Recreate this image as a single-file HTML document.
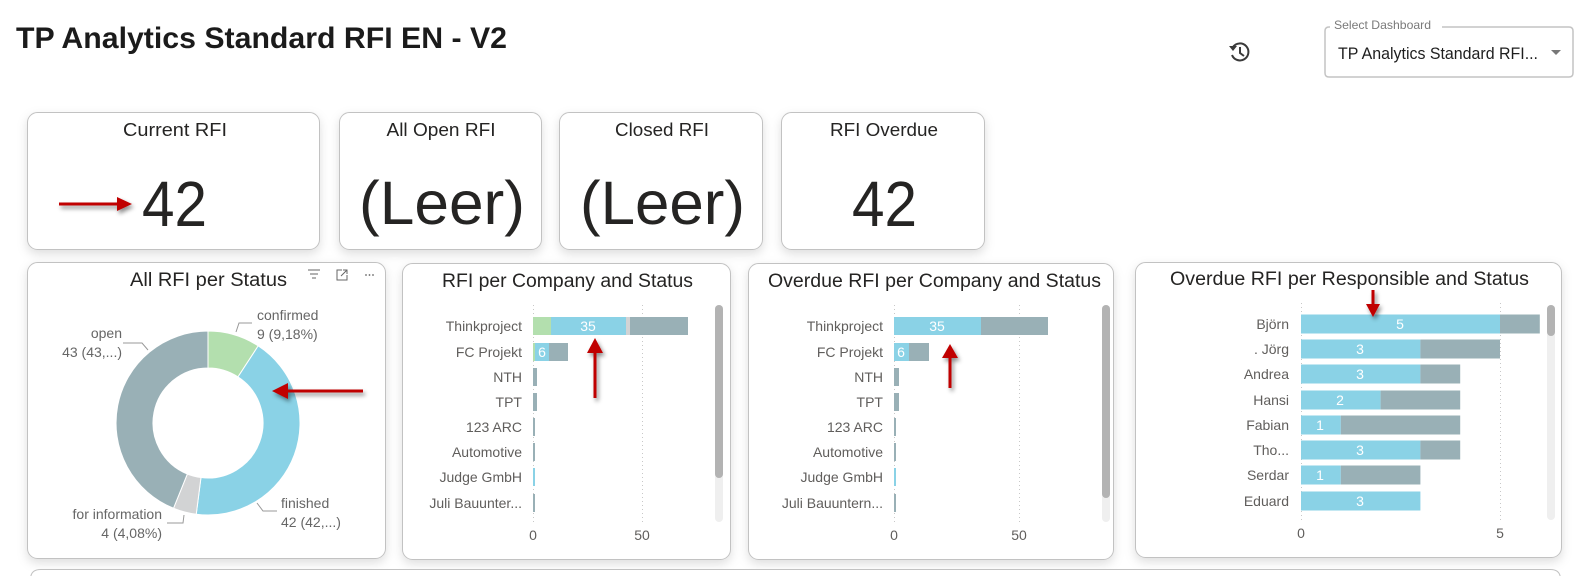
<!DOCTYPE html>
<html><head><meta charset="utf-8"><style>
html,body{margin:0;padding:0;background:#fff;width:1585px;height:576px;overflow:hidden;}
svg{display:block;}
text{font-family:"Liberation Sans","DejaVu Sans",sans-serif;}
</style></head><body>
<svg width="1585" height="576" viewBox="0 0 1585 576" xmlns="http://www.w3.org/2000/svg" overflow="hidden">
<defs>
<filter id="sh" x="-10%" y="-10%" width="120%" height="130%"><feDropShadow dx="0" dy="4" stdDeviation="5" flood-color="#000" flood-opacity="0.13"/></filter>
<filter id="ash" x="-30%" y="-30%" width="160%" height="160%"><feDropShadow dx="2" dy="3" stdDeviation="2" flood-color="#000" flood-opacity="0.45"/></filter>
</defs>
<rect width="1585" height="576" fill="#fff"/>

<!-- Title -->
<text x="16" y="48" font-size="30" font-weight="bold" fill="#1b1b1b" textLength="491" lengthAdjust="spacingAndGlyphs">TP Analytics Standard RFI EN - V2</text>

<!-- history icon -->
<g stroke="#3a3a3a" stroke-width="2" fill="none">
<path d="M1233 47 A8.5 8.5 0 1 1 1232 55"/>
<path d="M1240 47 L1240 53 L1244 56"/>
</g>
<path d="M1229 46 L1237 46 L1233 51 Z" fill="#3a3a3a"/>

<!-- dropdown -->
<path d="M1330 27 L1329 27 Q1325 27 1325 31 L1325 73 Q1325 77 1329 77 L1569 77 Q1573 77 1573 73 L1573 31 Q1573 27 1569 27 L1442 27" fill="none" stroke="#c4c4c4" stroke-width="1.5"/>
<text x="1334" y="29" font-size="12" fill="#7a7a7a" textLength="97" lengthAdjust="spacingAndGlyphs">Select Dashboard</text>
<text x="1338" y="59" font-size="17" fill="#1e1e1e" textLength="200" lengthAdjust="spacingAndGlyphs">TP Analytics Standard RFI...</text>
<path d="M1551 50 L1561 50 L1556 55 Z" fill="#777"/>

<!-- cards -->
<g filter="url(#sh)" fill="#fff" stroke="#c2c2c2" stroke-width="1">
<rect x="27.5" y="112.5" width="292" height="137" rx="10"/>
<rect x="339.5" y="112.5" width="202" height="137" rx="10"/>
<rect x="559.5" y="112.5" width="203" height="137" rx="10"/>
<rect x="781.5" y="112.5" width="203" height="137" rx="10"/>
<rect x="27.5" y="262.5" width="358" height="296" rx="10"/>
<rect x="402.5" y="263.5" width="328" height="296" rx="10"/>
<rect x="748.5" y="263.5" width="365" height="296" rx="10"/>
<rect x="1135.5" y="262.5" width="426" height="295" rx="10"/>
</g>
<path d="M30.5 576 L30.5 579.5 Q30.5 569.5 40.5 569.5 L1550.5 569.5 Q1560.5 569.5 1560.5 579.5 L1560.5 576" fill="#fff" stroke="#c2c2c2" stroke-width="1"/>

<g fill="#252423" text-anchor="middle">
<text x="175" y="136" font-size="18" textLength="104" lengthAdjust="spacingAndGlyphs">Current RFI</text>
<text x="441" y="136" font-size="18" textLength="109" lengthAdjust="spacingAndGlyphs">All Open RFI</text>
<text x="662" y="136" font-size="18" textLength="94" lengthAdjust="spacingAndGlyphs">Closed RFI</text>
<text x="884" y="136" font-size="18" textLength="108" lengthAdjust="spacingAndGlyphs">RFI Overdue</text>
<text x="174.5" y="226" font-size="64" textLength="65" lengthAdjust="spacingAndGlyphs">42</text>
<text x="442" y="224" font-size="61" textLength="166" lengthAdjust="spacingAndGlyphs">(Leer)</text>
<text x="662.5" y="224" font-size="61" textLength="165" lengthAdjust="spacingAndGlyphs">(Leer)</text>
<text x="884.5" y="226" font-size="64" textLength="65" lengthAdjust="spacingAndGlyphs">42</text>
</g>

<!-- Chart titles -->
<g fill="#252423" font-size="19">
<text x="130" y="286" textLength="157" lengthAdjust="spacingAndGlyphs">All RFI per Status</text>
<text x="442" y="287" textLength="251" lengthAdjust="spacingAndGlyphs">RFI per Company and Status</text>
<text x="768" y="287" textLength="333" lengthAdjust="spacingAndGlyphs">Overdue RFI per Company and Status</text>
<text x="1170" y="285" textLength="359" lengthAdjust="spacingAndGlyphs">Overdue RFI per Responsible and Status</text>
</g>

<!-- card 5 header icons -->
<g stroke="#666" stroke-width="1" fill="none">
<path d="M308 270 L320 270 M310 274 L318 274 M312 278 L316 278"/>
<path d="M342 270 L337 270 L337 280 L347 280 L347 275 M341 276 L347 270 M343 270 L347 270 L347 274"/>
</g>
<g fill="#666"><circle cx="366" cy="275" r="0.9"/><circle cx="369.5" cy="275" r="0.9"/><circle cx="373" cy="275" r="0.9"/></g>

<!-- Donut -->
<g stroke="#fff" stroke-width="1">
<path d="M208,331 A92,92 0 0 1 258.19,345.89 L238.00,376.90 A55,55 0 0 0 208,368 Z" fill="#B3DFAE"/>
<path d="M258.19,345.89 A92,92 0 0 1 196.23,514.25 L200.96,477.55 A55,55 0 0 0 238.00,376.90 Z" fill="#8AD2E6"/>
<path d="M196.23,514.25 A92,92 0 0 1 173.48,508.27 L187.36,473.98 A55,55 0 0 0 200.96,477.55 Z" fill="#D2D3D4"/>
<path d="M173.48,508.27 A92,92 0 0 1 208,331 L208,368 A55,55 0 0 0 187.36,473.98 Z" fill="#99B0B6"/>
</g>
<g stroke="#999" stroke-width="1" fill="none">
<path d="M236 332 L239 323 L252 323"/>
<path d="M148 350 L142 343 L123 343"/>
<path d="M184 515 L183 523 L167 523"/>
<path d="M257 503 L263 511 L277 511"/>
</g>
<g fill="#666" font-size="14">
<text x="257" y="320">confirmed</text>
<text x="257" y="339">9 (9,18%)</text>
<text x="122" y="338" text-anchor="end">open</text>
<text x="122" y="357" text-anchor="end">43 (43,...)</text>
<text x="162" y="519" text-anchor="end">for information</text>
<text x="162" y="538" text-anchor="end">4 (4,08%)</text>
<text x="281" y="508">finished</text>
<text x="281" y="527">42 (42,...)</text>
</g>

<!-- gridlines -->
<g stroke="#c8c8c8" stroke-width="1" stroke-dasharray="1,3">
<line x1="533.5" y1="305" x2="533.5" y2="522"/><line x1="642.5" y1="305" x2="642.5" y2="522"/>
<line x1="894.5" y1="305" x2="894.5" y2="522"/><line x1="1019.5" y1="305" x2="1019.5" y2="522"/>
<line x1="1301.5" y1="303" x2="1301.5" y2="522"/><line x1="1500.5" y1="303" x2="1500.5" y2="522"/>
</g>
<g fill="#605E5C" font-size="14" text-anchor="end">
<text x="522" y="331">Thinkproject</text>
<text x="522" y="357">FC Projekt</text>
<text x="522" y="382">NTH</text>
<text x="522" y="407">TPT</text>
<text x="522" y="432">123 ARC</text>
<text x="522" y="457">Automotive</text>
<text x="522" y="482">Judge GmbH</text>
<text x="522" y="508">Juli Bauunter...</text>
<text x="883" y="331">Thinkproject</text>
<text x="883" y="357">FC Projekt</text>
<text x="883" y="382">NTH</text>
<text x="883" y="407">TPT</text>
<text x="883" y="432">123 ARC</text>
<text x="883" y="457">Automotive</text>
<text x="883" y="482">Judge GmbH</text>
<text x="883" y="508">Juli Bauuntern...</text>
<text x="1289" y="329">Björn</text>
<text x="1289" y="354">. Jörg</text>
<text x="1289" y="379">Andrea</text>
<text x="1289" y="405">Hansi</text>
<text x="1289" y="430">Fabian</text>
<text x="1289" y="455">Tho...</text>
<text x="1289" y="480">Serdar</text>
<text x="1289" y="506">Eduard</text>
</g>
<g fill="#605E5C" font-size="14" text-anchor="middle">
<text x="533" y="540">0</text><text x="642" y="540">50</text>
<text x="894" y="540">0</text><text x="1019" y="540">50</text>
<text x="1301" y="538">0</text><text x="1500" y="538">5</text>
</g>

<g>
<!-- card 6 -->
<rect x="533" y="317" width="18" height="18" fill="#B3DFAE"/>
<rect x="551" y="317" width="75" height="18" fill="#8AD2E6"/>
<rect x="626" y="317" width="4" height="18" fill="#D2D3D4"/>
<rect x="630" y="317" width="58" height="18" fill="#99B0B6"/>
<rect x="533" y="343" width="2" height="18" fill="#B3DFAE"/>
<rect x="535" y="343" width="14" height="18" fill="#8AD2E6"/>
<rect x="549" y="343" width="19" height="18" fill="#99B0B6"/>
<rect x="533" y="368" width="4" height="18" fill="#99B0B6"/>
<rect x="533" y="393" width="4" height="18" fill="#99B0B6"/>
<rect x="533" y="418" width="2" height="18" fill="#99B0B6"/>
<rect x="533" y="443" width="2" height="18" fill="#99B0B6"/>
<rect x="533" y="468" width="2" height="18" fill="#8AD2E6"/>
<rect x="533" y="494" width="2" height="18" fill="#99B0B6"/>
<!-- card 7 -->
<rect x="894" y="317" width="87" height="18" fill="#8AD2E6"/>
<rect x="981" y="317" width="67" height="18" fill="#99B0B6"/>
<rect x="894" y="343" width="15" height="18" fill="#8AD2E6"/>
<rect x="909" y="343" width="20" height="18" fill="#99B0B6"/>
<rect x="894" y="368" width="5" height="18" fill="#99B0B6"/>
<rect x="894" y="393" width="5" height="18" fill="#99B0B6"/>
<rect x="894" y="418" width="2" height="18" fill="#99B0B6"/>
<rect x="894" y="443" width="2" height="18" fill="#99B0B6"/>
<rect x="894" y="468" width="2" height="18" fill="#8AD2E6"/>
<rect x="894" y="494" width="2" height="18" fill="#99B0B6"/>
<!-- card 8 -->
<rect x="1301" y="314.5" width="199" height="19" fill="#8AD2E6"/>
<rect x="1500" y="314.5" width="39.8" height="19" fill="#99B0B6"/>
<rect x="1301" y="339.5" width="119.4" height="19" fill="#8AD2E6"/>
<rect x="1420.4" y="339.5" width="79.6" height="19" fill="#99B0B6"/>
<rect x="1301" y="364.5" width="119.4" height="19" fill="#8AD2E6"/>
<rect x="1420.4" y="364.5" width="39.8" height="19" fill="#99B0B6"/>
<rect x="1301" y="390.5" width="79.6" height="19" fill="#8AD2E6"/>
<rect x="1380.6" y="390.5" width="79.6" height="19" fill="#99B0B6"/>
<rect x="1301" y="415.5" width="39.8" height="19" fill="#8AD2E6"/>
<rect x="1340.8" y="415.5" width="119.4" height="19" fill="#99B0B6"/>
<rect x="1301" y="440.5" width="119.4" height="19" fill="#8AD2E6"/>
<rect x="1420.4" y="440.5" width="39.8" height="19" fill="#99B0B6"/>
<rect x="1301" y="465.5" width="39.8" height="19" fill="#8AD2E6"/>
<rect x="1340.8" y="465.5" width="79.6" height="19" fill="#99B0B6"/>
<rect x="1301" y="491.5" width="119.4" height="19" fill="#8AD2E6"/>
</g>

<g fill="#fff" font-size="14" text-anchor="middle">
<text x="588" y="331">35</text>
<text x="542" y="357">6</text>
<text x="937" y="331">35</text>
<text x="901" y="357">6</text>
<text x="1400" y="329">5</text>
<text x="1360" y="354">3</text>
<text x="1360" y="379">3</text>
<text x="1340" y="405">2</text>
<text x="1320" y="430">1</text>
<text x="1360" y="455">3</text>
<text x="1320" y="480">1</text>
<text x="1360" y="506">3</text>
</g>

<!-- scrollbars -->
<rect x="715" y="305" width="8" height="217" rx="4" fill="#efefef"/>
<rect x="715" y="305" width="8" height="173" rx="4" fill="#b3b3b3"/>
<rect x="1102" y="305" width="8" height="217" rx="4" fill="#efefef"/>
<rect x="1102" y="305" width="8" height="193" rx="4" fill="#b3b3b3"/>
<rect x="1547" y="305" width="8" height="215" rx="4" fill="#efefef"/>
<rect x="1547" y="305" width="8" height="31" rx="4" fill="#b3b3b3"/>

<!-- red arrows -->
<g fill="#C00000" filter="url(#ash)">
<rect x="59" y="202.5" width="60" height="3"/>
<path d="M132 204 L117 197 L117 211 Z"/>
<rect x="286" y="389.5" width="77" height="3"/>
<path d="M272 391 L288 383 L288 399 Z"/>
<rect x="593.5" y="350" width="3" height="48"/>
<path d="M595 338 L587 353 L603 353 Z"/>
<rect x="948.5" y="356" width="3" height="32"/>
<path d="M950 344 L942 358 L958 358 Z"/>
<rect x="1371.5" y="290" width="3" height="16"/>
<path d="M1373 317 L1366 304 L1380 304 Z"/>
</g>
</svg>
</body></html>
